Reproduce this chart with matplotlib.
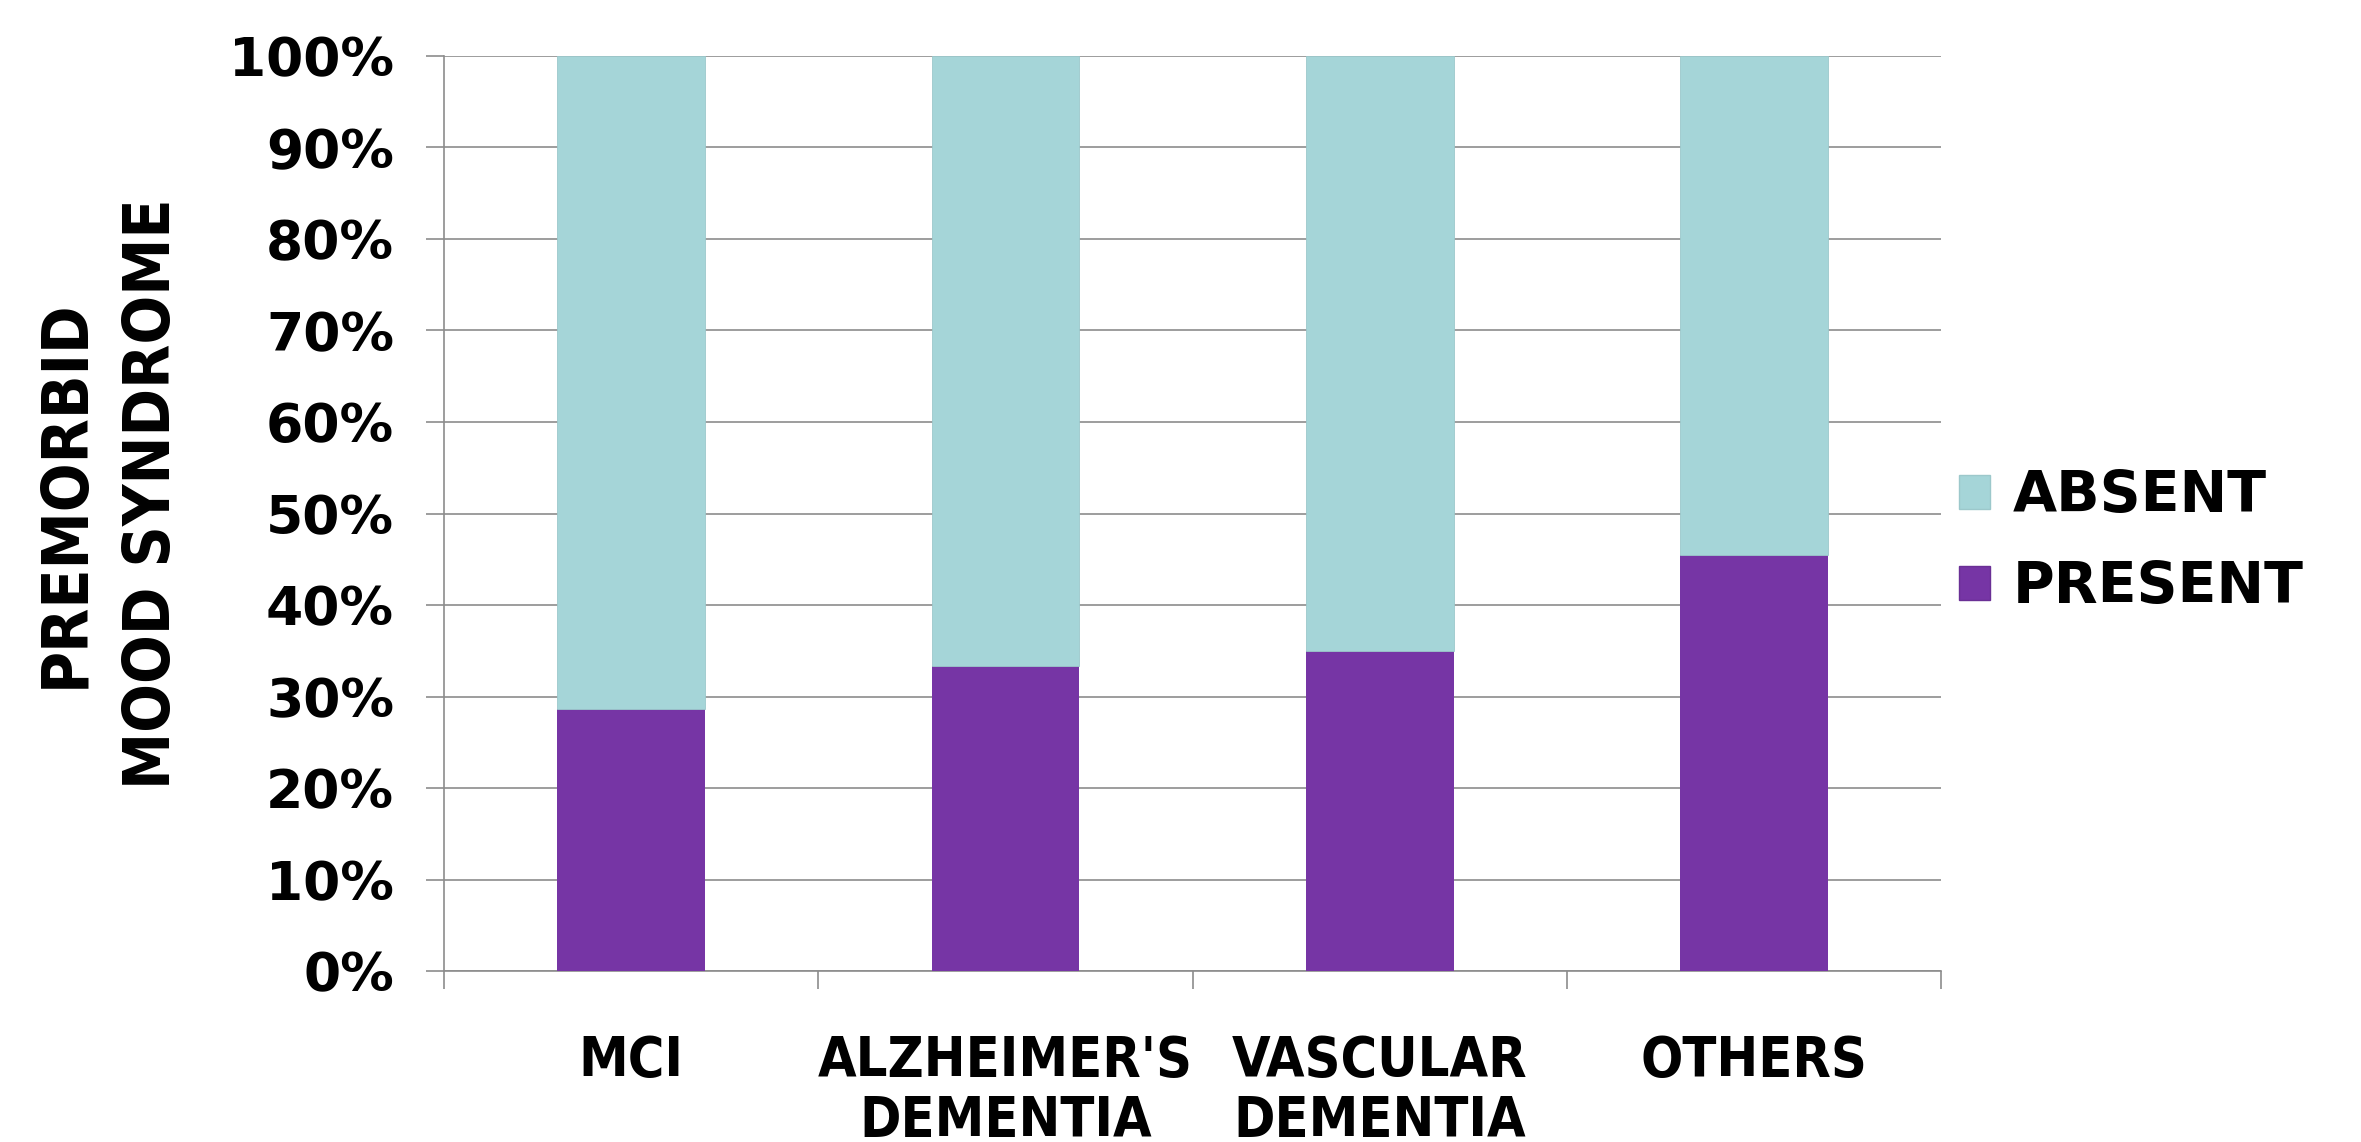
import matplotlib
matplotlib.use("Agg")
import matplotlib.pyplot as plt
from matplotlib import font_manager as fm
from matplotlib.font_manager import FontProperties
from matplotlib.patches import Patch
import numpy as np

categories = ["MCI", "ALZHEIMER'S\nDEMENTIA", "VASCULAR\nDEMENTIA", "OTHERS"]
present = [28.6, 33.3, 35.0, 45.5]
absent = [100 - v for v in present]
series_names = ["ABSENT", "PRESENT"]
ytick_vals = [0, 10, 20, 30, 40, 50, 60, 70, 80, 90, 100]
ytick_labels = [f"{v}%" for v in ytick_vals]
ylabel = "PREMORBID\nMOOD SYNDROME"

c_absent = "#A5D5D8"
c_present = "#7635A5"
grid_c = "#8C8C8C"

# condensed bold font
cands = [f.fname for f in fm.fontManager.ttflist
         if 'DejaVuSansCondensed-Bold.ttf' in f.fname]
if cands:
    def cond(size):
        return FontProperties(fname=cands[0], size=size)
else:
    def cond(size):
        return FontProperties(family=['Liberation Sans Narrow', 'DejaVu Sans'],
                              weight='bold', size=size)

DPI = 100
fig = plt.figure(figsize=(23.61, 11.42), dpi=DPI)
ax = fig.add_axes([0.1881, 0.1497, 0.8221 - 0.1881, 0.951 - 0.1497])

x = np.arange(len(categories))
w = 0.395
ax.bar(x, present, width=w, color=c_present, zorder=3, label="PRESENT")
ax.bar(x, absent, width=w, bottom=present, color=c_absent, zorder=3,
       edgecolor="#9CC8CB", linewidth=0.6, label="ABSENT")

ax.set_xlim(-0.5, len(categories) - 0.5)
ax.set_ylim(0, 100)
ax.set_yticks(ytick_vals)
ax.set_yticklabels(ytick_labels)
ax.yaxis.grid(True, color=grid_c, linewidth=1.2, zorder=0)
ax.set_axisbelow(True)

for s in ["top", "right"]:
    ax.spines[s].set_visible(False)
for s in ["left", "bottom"]:
    ax.spines[s].set_color(grid_c)
    ax.spines[s].set_linewidth(1.2)

ax.tick_params(axis='y', length=13, width=1.2, color=grid_c, pad=23)
for lab in ax.get_yticklabels():
    lab.set_fontfamily('DejaVu Sans')
    lab.set_fontweight('bold')
    lab.set_fontsize(38.5)

# x: ticks at category boundaries, labels at centers
ax.set_xticks(np.arange(-0.5, len(categories), 1.0))
ax.set_xticklabels([])
ax.tick_params(axis='x', which='major', length=13, width=1.2, color=grid_c)
ax.set_xticks(x, minor=True)
ax.set_xticklabels(categories, minor=True, fontproperties=cond(40))
ax.tick_params(axis='x', which='minor', length=0, pad=45)
for lab in ax.get_xticklabels(minor=True):
    lab.set_multialignment('center')
    lab.set_linespacing(1.16)

fig.text(109 / 2361, 1 - 494 / 1142, ylabel, rotation=90, ha='center', va='center',
         multialignment='center', fontproperties=cond(46), linespacing=1.5)

handles = [Patch(facecolor=c_absent, edgecolor="#9CC8CB"),
           Patch(facecolor=c_present, edgecolor="#6A2F95")]
leg = fig.legend(handles, series_names, loc='center left',
                 bbox_to_anchor=(1959 / 2361, 1 - 542 / 1142),
                 frameon=False, prop=dict(family='DejaVu Sans', weight='bold', size=41),
                 handlelength=0.55, handleheight=0.55, handletextpad=0.4,
                 labelspacing=0.63, borderaxespad=0, borderpad=0)

fig.savefig("out.png", dpi=DPI, facecolor='white')
